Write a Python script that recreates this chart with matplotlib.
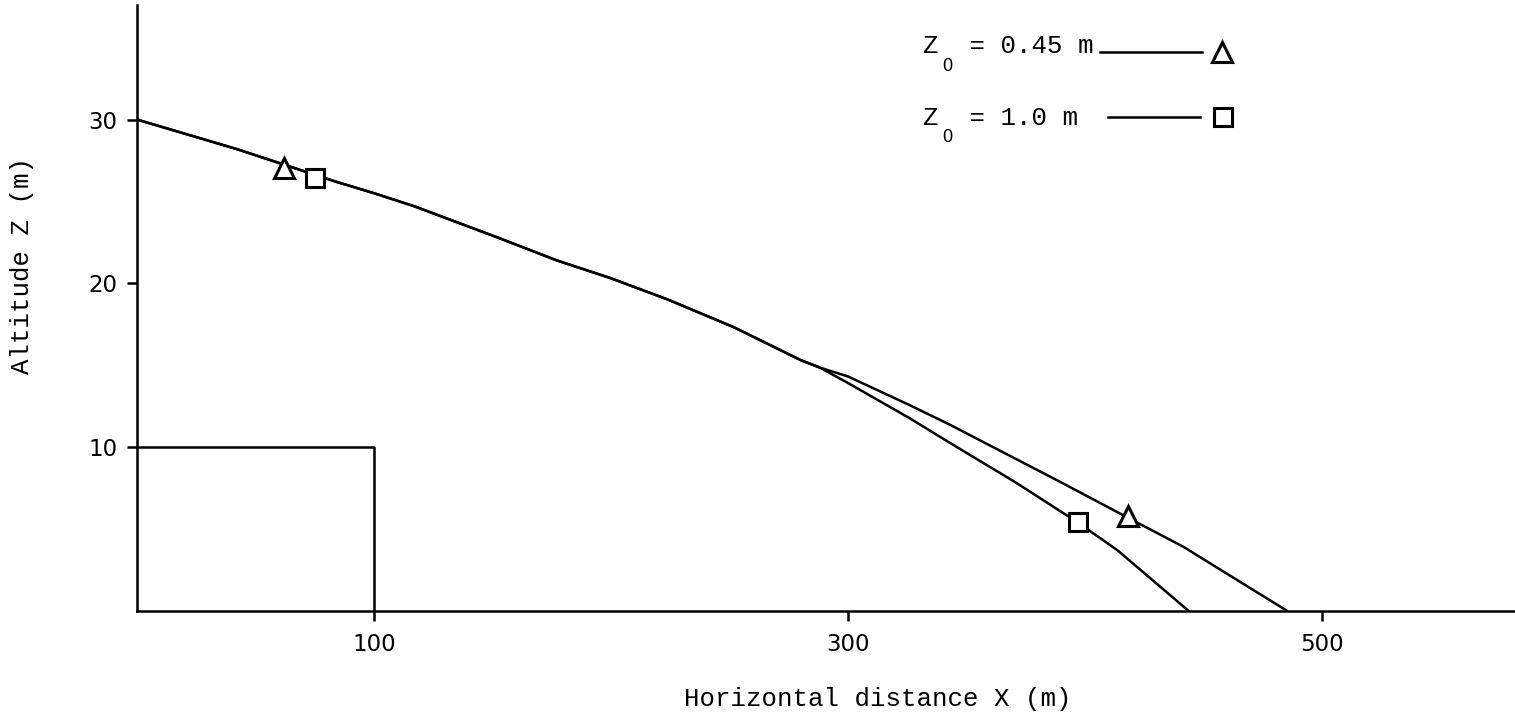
import matplotlib
matplotlib.use("Agg")
import matplotlib.pyplot as plt
from matplotlib.transforms import offset_copy

# Data
x_shared = [0, 42, 84, 100, 117, 152, 177, 200, 224, 252, 280, 288]
z_shared = [30.0, 28.2, 26.2, 25.5, 24.7, 22.8, 21.4, 20.3, 19.0, 17.3, 15.3, 14.85]

x_045 = [300, 326, 343, 389.5, 417.7, 441.4, 485]
z_045 = [14.3, 12.55, 11.35, 7.86, 5.7, 3.9, 0.0]

x_10 = [300, 326, 343, 371, 396.6, 413.5, 443.5]
z_10 = [13.9, 11.75, 10.24, 7.8, 5.41, 3.7, 0.0]

marker_045_x = [61.9, 418]
marker_045_z = [27.05, 5.75]
marker_10_x = [75.2, 397]
marker_10_z = [26.4, 5.4]

building_x = [0, 100, 100]
building_z = [10, 10, 0]

xticks = [100, 300, 500]
yticks = [10, 20, 30]
legend_main = ["Z  = 0.45 m", "Z  = 1.0 m"]
legend_sub = "0"

fig = plt.figure(figsize=(15.15, 7.19), dpi=100)
ax = fig.add_axes([137/1515, 1 - 610.5/719, 1 - 137/1515, (610.5 - 5)/719])

lw = 1.8
ax.plot(x_shared + x_045, z_shared + z_045, color='black', lw=lw)
ax.plot(x_shared + x_10, z_shared + z_10, color='black', lw=lw)
ax.plot(marker_045_x, marker_045_z, linestyle='none', marker='^', ms=15,
        mfc='white', mec='black', mew=2.2)
ax.plot(marker_10_x, marker_10_z, linestyle='none', marker='s', ms=12.5,
        mfc='white', mec='black', mew=2.2)
ax.plot(building_x, building_z, color='black', lw=lw)

ax.set_xlim(0, 581.4)
ax.set_ylim(0, 37.0)
ax.set_xticks(xticks)
ax.set_yticks(yticks)
ax.tick_params(axis='both', length=7, width=1.8, labelsize=16.5, direction='out')
ax.tick_params(axis='x', pad=9)
ax.tick_params(axis='y', pad=7)
for s in ['top', 'right']:
    ax.spines[s].set_visible(False)
for s in ['left', 'bottom']:
    ax.spines[s].set_linewidth(1.8)

mono = 'Liberation Mono'
fs = 18.5
fig.text(878 / 1515, 1 - 699/719, "Horizontal distance X (m)",
         ha='center', va='center', family=mono, fontsize=fs)
fig.text(22/1515, 1 - 265/719, "Altitude Z (m)", rotation=90,
         ha='center', va='center', family=mono, fontsize=fs)

# Legend (manual, typewriter style)
rows = [
    dict(ty=34.47, ly=34.1, mk='^', ms=15, lx0=406.3, lx1=449.4, mx=457.8),
    dict(ty=30.12, ly=30.18, mk='s', ms=12.5, lx0=409.7, lx1=448.5, mx=458.2),
]
sub_tr = offset_copy(ax.transData, fig=fig, x=0, y=-20, units='dots')
for r, lab in zip(rows, legend_main):
    ax.text(331.6, r['ty'], lab, ha='left', va='center', family=mono, fontsize=fs)
    ax.text(341.8, r['ty'], legend_sub, ha='center', va='center',
            family='Liberation Sans', fontsize=13, transform=sub_tr)
    ax.plot([r['lx0'], r['lx1']], [r['ly'], r['ly']], color='black', lw=lw,
            clip_on=False)
    ax.plot([r['mx']], [r['ly']], linestyle='none', marker=r['mk'], ms=r['ms'],
            mfc='white', mec='black', mew=2.2, clip_on=False)

fig.savefig("out.png", dpi=100)
